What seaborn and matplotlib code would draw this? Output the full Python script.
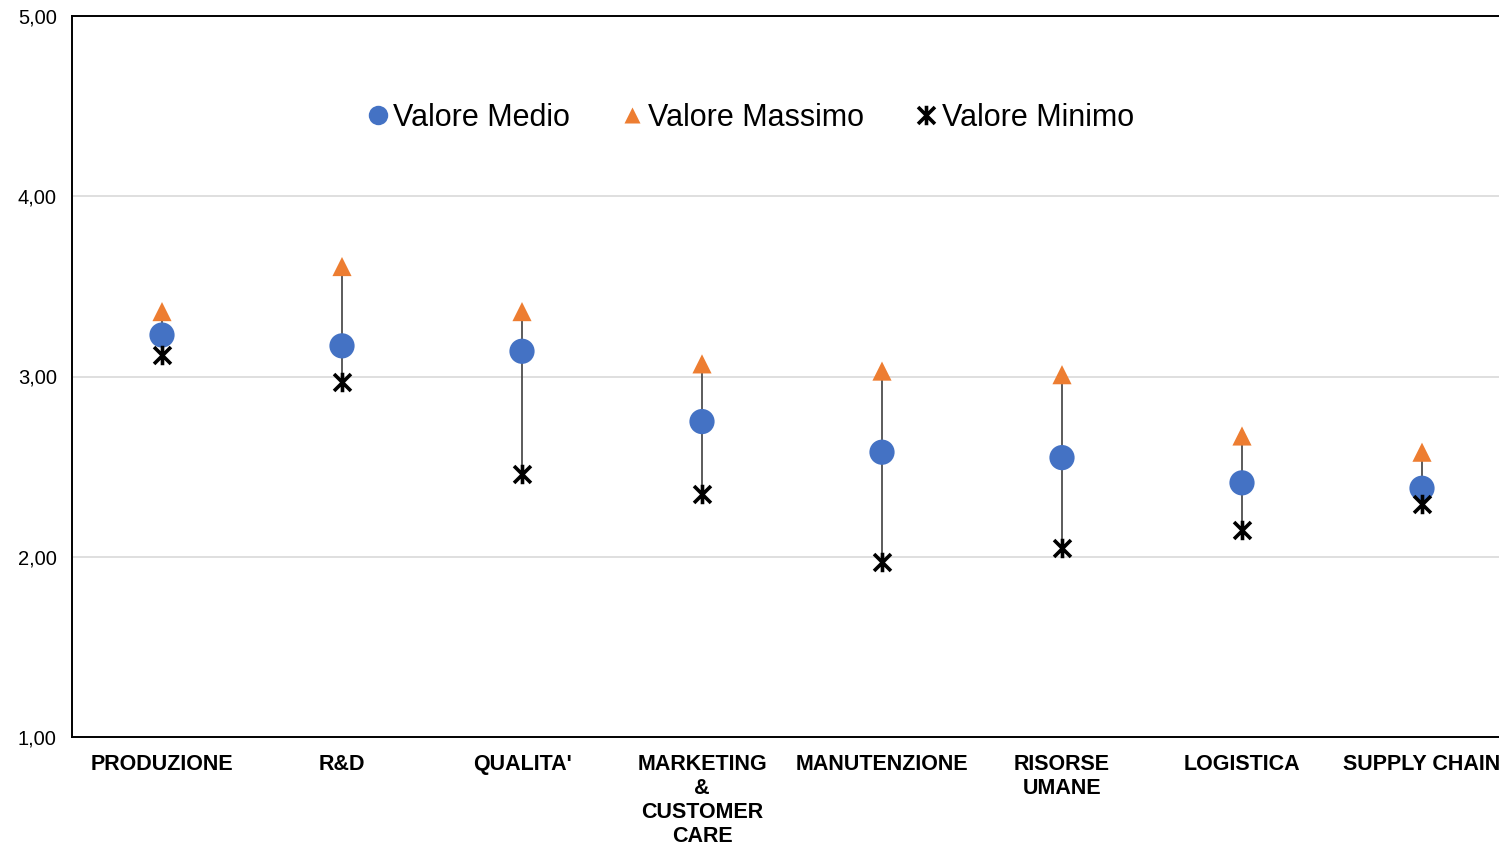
import matplotlib
matplotlib.use("Agg")
import matplotlib.pyplot as plt
from matplotlib.path import Path
from matplotlib.lines import Line2D
from matplotlib.ticker import FuncFormatter
import seaborn as sns
import pandas as pd

categories = ["PRODUZIONE", "R&D", "QUALITA'", "MARKETING\n&\nCUSTOMER\nCARE",
              "MANUTENZIONE", "RISORSE\nUMANE", "LOGISTICA", "SUPPLY CHAIN"]
valore_medio = [3.23, 3.17, 3.14, 2.75, 2.58, 2.55, 2.41, 2.38]
valore_massimo = [3.36, 3.61, 3.36, 3.07, 3.03, 3.01, 2.67, 2.58]
valore_minimo = [3.12, 2.97, 2.46, 2.35, 1.97, 2.05, 2.15, 2.29]

sns.set_style("white")
plt.rcParams["font.family"] = ["Liberation Sans", "DejaVu Sans"]
plt.rcParams["text.color"] = "black"
plt.rcParams["xtick.color"] = "black"
plt.rcParams["ytick.color"] = "black"

# star marker: an X crossed by a vertical stroke
star = Path([(-1, -1), (1, 1), (-1, 1), (1, -1), (0, -1.15), (0, 1.15)],
            [Path.MOVETO, Path.LINETO, Path.MOVETO, Path.LINETO, Path.MOVETO, Path.LINETO])

df = pd.DataFrame({"cat": categories, "medio": valore_medio,
                   "massimo": valore_massimo, "minimo": valore_minimo})

fig = plt.figure(figsize=(14.99, 8.48), dpi=100)
ax = fig.add_axes([72 / 1499, 111 / 848, 1440 / 1499, 721 / 848])

xs = range(len(categories))
ax.vlines(xs, df["minimo"], df["massimo"], color="#404040", lw=1.2, zorder=2)

sns.scatterplot(data=df, x="cat", y="massimo", marker="^", s=190, color="#ED7D31",
                edgecolor="none", ax=ax, zorder=3)
sns.scatterplot(data=df, x="cat", y="medio", marker="o", s=330, color="#4472C4",
                edgecolor="none", ax=ax, zorder=4)
ax.plot(list(xs), df["minimo"], ls="none", marker=star, ms=14, mew=2.6,
        color="black", zorder=5)

ax.set_xlim(-0.5, len(categories) - 0.5)
ax.set_ylim(1, 5)
ax.set_yticks([1, 2, 3, 4, 5])
ax.yaxis.set_major_formatter(FuncFormatter(lambda v, p: f"{v:.2f}".replace(".", ",")))
ax.grid(axis="y", color="#D9D9D9", lw=1.2)
ax.set_axisbelow(True)
ax.set_xlabel("")
ax.set_ylabel("")
ax.tick_params(axis="y", length=0, pad=11, labelsize=14.5)
ax.tick_params(axis="x", length=0, pad=12, labelsize=15.5)
for lbl in ax.get_xticklabels():
    lbl.set_fontweight("bold")
    lbl.set_linespacing(1.2)
for side in ["left", "bottom", "top", "right"]:
    ax.spines[side].set_color("black")
    ax.spines[side].set_linewidth(1.4)

handles = [
    Line2D([], [], ls="none", marker="o", ms=14, color="#4472C4", mec="none"),
    Line2D([], [], ls="none", marker="^", ms=12, color="#ED7D31", mec="none"),
    Line2D([], [], ls="none", marker=star, ms=14, mew=2.6, color="black"),
]
ax.legend(handles, ["Valore Medio", "Valore Massimo", "Valore Minimo"], ncol=3,
          frameon=False, fontsize=22, handlelength=0.6, handletextpad=0.2,
          columnspacing=1.75, loc="center",
          bbox_to_anchor=((751 - 72) / 1440, (737 - 118) / 721))

fig.savefig("out.png", dpi=100)
